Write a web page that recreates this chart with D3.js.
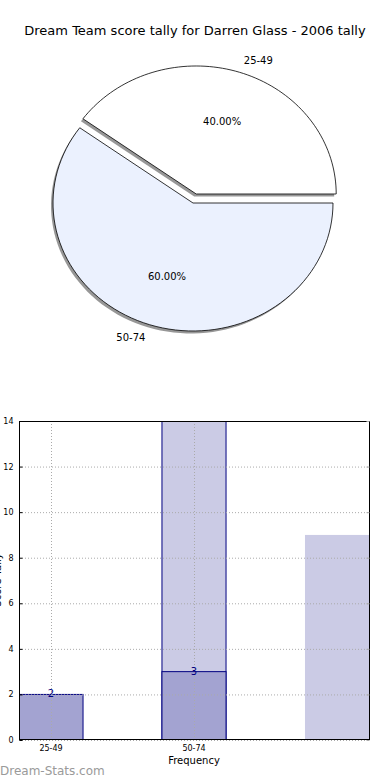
<!DOCTYPE html>
<html>
<head>
<meta charset="utf-8">
<script src="https://cdn.jsdelivr.net/npm/d3@7"></script>
<style>
  body { margin: 0; background: #fff; }
  svg { display: block; font-family: "DejaVu Sans", sans-serif; }
</style>
</head>
<body>
<svg id="chart" width="390" height="780"></svg>
<script>
// pie data
var pieLabels = ["25-49", "50-74"]
var pieValues = [2, 3]
var pieColors = ["#ffffff", "#ebf1fe"]

// bar data
var barCategories = ["25-49", "50-74", ""]
var tallyValues = [2, 3, 0]
var backValues = [0, 15, 9]
var yTicks = [0, 2, 4, 6, 8, 10, 12, 14]

var svg = d3.select("#chart")

svg.append("text")
  .attr("x", 195).attr("y", 35)
  .attr("text-anchor", "middle")
  .style("font-size", "13px")
  .text("Dream Team score tally for Darren Glass - 2006 tally")

// ---- pie (elliptical, like the stretched matplotlib axes) ----
var rx = 140, ry = 128
var cx = 193, cy = 203
var explode = [0.074, 0]

var total = d3.sum(pieValues)
var angle = d3.scaleLinear().domain([0, total]).range([0, 2 * Math.PI])

var slices = []
var acc = 0
pieValues.forEach(function (v, i) {
  slices.push({ label: pieLabels[i], value: v, a0: angle(acc), a1: angle(acc + v), i: i })
  acc += v
})

function sliceCenter(s) {
  var mid = (s.a0 + s.a1) / 2
  var e = explode[s.i]
  return { x: cx + e * rx * Math.cos(mid), y: cy - e * ry * Math.sin(mid) }
}

function slicePath(s, ox, oy) {
  var c = sliceCenter(s)
  var x0 = c.x + ox, y0 = c.y + oy
  var pts = [[x0, y0]]
  var n = 80
  for (var k = 0; k <= n; k++) {
    var a = s.a0 + (s.a1 - s.a0) * k / n
    pts.push([x0 + rx * Math.cos(a), y0 - ry * Math.sin(a)])
  }
  return "M" + pts.map(function (p) { return p.join(",") }).join("L") + "Z"
}

var pie = svg.append("g")

// shadow first, slices on top
pie.selectAll("path.shadow")
  .data(slices)
  .enter()
  .append("path")
  .attr("class", "shadow")
  .attr("d", function (d) { return slicePath(d, -2, 2.5) })
  .style("fill", "#8c8c8c")
  .style("fill-opacity", 0.9)

pie.selectAll("path.slice")
  .data(slices)
  .enter()
  .append("path")
  .attr("class", "slice")
  .attr("d", function (d) { return slicePath(d, 0, 0) })
  .style("fill", function (d) { return pieColors[d.i] })
  .style("stroke", "#000")
  .style("stroke-width", 0.8)

pie.selectAll("text.lbl")
  .data(slices)
  .enter()
  .append("text")
  .attr("class", "lbl")
  .attr("x", function (d) { var m = (d.a0 + d.a1) / 2; return sliceCenter(d).x + 1.1 * rx * Math.cos(m) })
  .attr("y", function (d) { var m = (d.a0 + d.a1) / 2; return sliceCenter(d).y - 1.1 * ry * Math.sin(m) + 4 })
  .attr("text-anchor", function (d) { return Math.cos((d.a0 + d.a1) / 2) > 0 ? "start" : "end" })
  .style("font-size", "10px")
  .text(function (d) { return d.label })

pie.selectAll("text.pct")
  .data(slices)
  .enter()
  .append("text")
  .attr("class", "pct")
  .attr("x", function (d) { var m = (d.a0 + d.a1) / 2; return sliceCenter(d).x + 0.6 * rx * Math.cos(m) })
  .attr("y", function (d) { var m = (d.a0 + d.a1) / 2; return sliceCenter(d).y - 0.6 * ry * Math.sin(m) + 4 })
  .attr("text-anchor", "middle")
  .style("font-size", "10px")
  .text(function (d) { return (100 * d.value / total).toFixed(2) + "%" })

// ---- bar chart ----
var plotLeft = 19, plotRight = 370, plotTop = 421, plotBottom = 740

var x = d3.scaleLinear().domain([0, 1]).range([51, 194])
var barW = x(0.448) - x(0)
var y = d3.scaleLinear().domain([0, 14]).range([plotBottom, plotTop])

var bars = svg.append("g")

svg.append("clipPath").attr("id", "plotclip")
  .append("rect")
  .attr("x", plotLeft).attr("y", plotTop)
  .attr("width", plotRight - plotLeft).attr("height", plotBottom - plotTop)

var plot = bars.append("g").attr("clip-path", "url(#plotclip)")

// back (light) bars
plot.selectAll("rect.back")
  .data(backValues)
  .enter()
  .append("rect")
  .attr("class", "back")
  .attr("x", function (d, i) { return x(i) - barW / 2 })
  .attr("y", function (d) { return y(d) })
  .attr("width", barW)
  .attr("height", function (d) { return y(0) - y(d) })
  .style("fill", "#cbcbe5")
  .style("stroke", function (d, i) { return barCategories[i] ? "#000080" : "none" })
  .style("stroke-width", 1)

// tally bars
plot.selectAll("rect.tally")
  .data(tallyValues)
  .enter()
  .append("rect")
  .attr("class", "tally")
  .attr("x", function (d, i) { return x(i) - barW / 2 })
  .attr("y", function (d) { return y(d) })
  .attr("width", barW)
  .attr("height", function (d) { return y(0) - y(d) })
  .style("fill", "#a3a3d1")
  .style("stroke", function (d) { return d > 0 ? "#000080" : "none" })
  .style("stroke-width", 1)

// grid
var grid = bars.append("g").style("stroke", "#aaaaaa").style("stroke-dasharray", "1,2").style("stroke-width", 1)
grid.selectAll("line.h")
  .data(yTicks)
  .enter()
  .append("line")
  .attr("x1", plotLeft).attr("x2", plotRight)
  .attr("y1", function (d) { return y(d) + 0.5 })
  .attr("y2", function (d) { return y(d) + 0.5 })
grid.selectAll("line.v")
  .data(barCategories.filter(function (c) { return c }))
  .enter()
  .append("line")
  .attr("x1", function (d, i) { return x(i) + 0.5 })
  .attr("x2", function (d, i) { return x(i) + 0.5 })
  .attr("y1", plotTop).attr("y2", plotBottom)

// value labels
bars.selectAll("text.val")
  .data(tallyValues.map(function (v, i) { return { v: v, i: i } }).filter(function (d) { return d.v > 0 }))
  .enter()
  .append("text")
  .attr("class", "val")
  .attr("x", function (d) { return x(d.i) })
  .attr("y", function (d) { return y(d.v) + 3 })
  .attr("text-anchor", "middle")
  .style("font-size", "10px")
  .style("fill", "#000080")
  .text(function (d) { return d.v })

// axes frame
bars.append("rect")
  .attr("x", plotLeft + 0.5).attr("y", plotTop + 0.5)
  .attr("width", plotRight - plotLeft - 1).attr("height", plotBottom - plotTop - 1)
  .style("fill", "none").style("stroke", "#000").style("stroke-width", 1)

var yAxis = d3.axisLeft(y).tickValues(yTicks).tickSize(-3).tickPadding(6)
var ya = bars.append("g").attr("transform", "translate(" + (plotLeft + 0.5) + ",0)").call(yAxis)
ya.select(".domain").remove()
ya.selectAll("text").style("font-size", "8px").style("font-family", "DejaVu Sans, sans-serif")

var yAxisR = d3.axisRight(y).tickValues(yTicks).tickSize(-3).tickFormat("")
var yr = bars.append("g").attr("transform", "translate(" + (plotRight - 0.5) + ",0)").call(yAxisR)
yr.select(".domain").remove()
yr.selectAll("line").style("stroke", "#aaa")

bars.selectAll("text.xt")
  .data(barCategories)
  .enter()
  .append("text")
  .attr("class", "xt")
  .attr("x", function (d, i) { return x(i) })
  .attr("y", plotBottom + 11)
  .attr("text-anchor", "middle")
  .style("font-size", "8px")
  .text(function (d) { return d })

svg.append("text")
  .attr("x", 194).attr("y", 764)
  .attr("text-anchor", "middle")
  .style("font-size", "10px")
  .text("Frequency")

// y label sits mostly off the left edge, as in the original
svg.append("text")
  .attr("transform", "translate(1,580) rotate(-90)")
  .attr("text-anchor", "middle")
  .style("font-size", "10px")
  .text("Score Tally")

svg.append("text")
  .attr("x", 0).attr("y", 775)
  .style("font-size", "12px")
  .style("fill", "#9a9a9a")
  .text("Dream-Stats.com")
</script>
</body>
</html>
